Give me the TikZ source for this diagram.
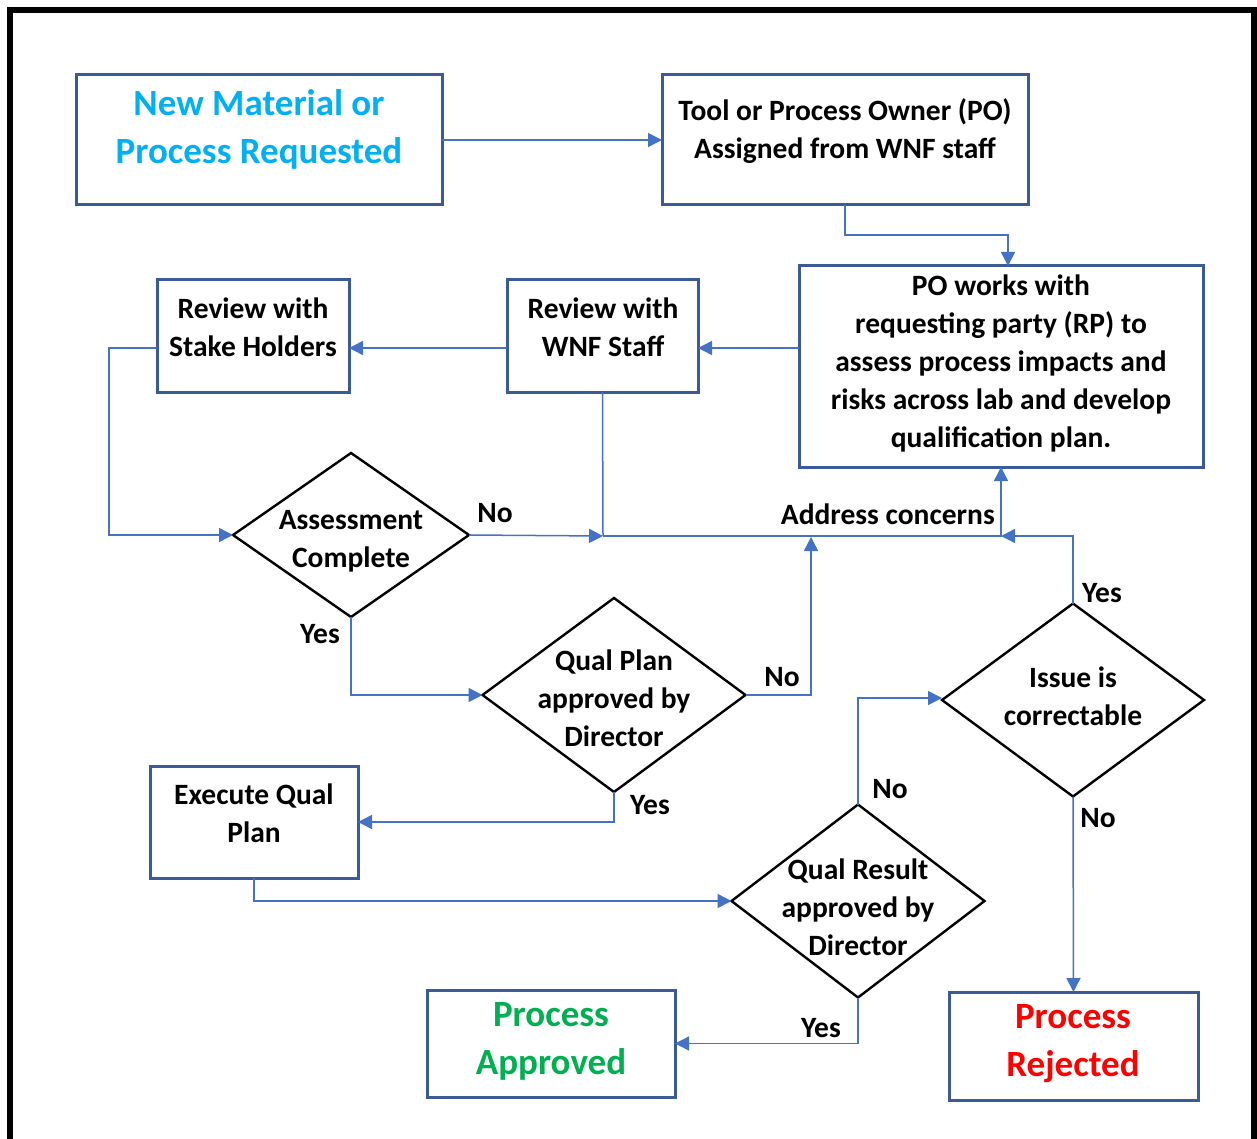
\documentclass[tikz,border=0pt]{standalone}
\usepackage{fontspec}
\setmainfont{Carlito}
\usetikzlibrary{shapes.geometric,arrows.meta}
\definecolor{boxblue}{HTML}{3A5A98}
\definecolor{lineblue}{HTML}{4472C4}
\definecolor{cyantext}{HTML}{00B0F0}
\definecolor{greentext}{HTML}{00B050}
\definecolor{redtext}{HTML}{FF0000}
\begin{document}
\begin{tikzpicture}[x=1pt,y=-1pt,
  pbox/.style={draw=boxblue,line width=3pt,inner sep=0pt,outer sep=0pt},
  pdia/.style={draw=black,line width=2.4pt,diamond,inner sep=0pt,outer sep=0pt},
  txt/.style={font=\fontsize{29.5}{38}\selectfont\bfseries,align=center,inner sep=0pt},
  bigtxt/.style={font=\fontsize{37}{48}\selectfont\bfseries,align=center,inner sep=0pt},
  lbl/.style={font=\fontsize{29.5}{34}\selectfont\bfseries,inner sep=0pt},
  cline/.style={draw=lineblue,line width=1.5pt},
  conn/.style={cline,-{Triangle[length=14pt,width=14pt]}}]
\useasboundingbox (0,0) rectangle (1257,1139);
% frame
\draw[line width=6pt,line join=miter] (10,1145) -- (10,10) -- (1254,10) -- (1254,1145);
% boxes
\node[pbox,minimum width=366pt,minimum height=130pt] (b1) at (259,140) {};
\node[pbox,minimum width=366pt,minimum height=130pt] (b2) at (845,140) {};
\node[pbox,minimum width=404pt,minimum height=201pt] (b3) at (1001,366.5) {};
\node[pbox,minimum width=191pt,minimum height=112pt] (b4) at (602.5,336) {};
\node[pbox,minimum width=192pt,minimum height=112pt] (b5) at (253,336) {};
\node[pbox,minimum width=208pt,minimum height=112pt] (b6) at (254,822) {};
\node[pbox,minimum width=248pt,minimum height=107pt] (b7) at (551,1043.5) {};
\node[pbox,minimum width=249pt,minimum height=108pt] (b8) at (1073.5,1046) {};
% diamonds
\node[pdia,minimum width=236pt,minimum height=164pt] (d1) at (351,535) {};
\node[pdia,minimum width=263pt,minimum height=194pt] (d2) at (614,695) {};
\node[pdia,minimum width=262pt,minimum height=193pt] (d3) at (1073,700) {};
\node[pdia,minimum width=253pt,minimum height=193pt] (d4) at (858,901) {};
% helper coordinates
\coordinate (r1) at (0,348);
\coordinate (L) at (109,348);
\coordinate (J) at (603,536);
\coordinate (A2) at (811,537);
% connectors
\draw[conn] (b1.east) -- (b2.west);
\draw[conn] (b2.south) -- ++(0,30) -| ([xshift=7pt]b3.north);
\draw[conn] (b3.west |- r1) -- (b4.east |- r1);
\draw[conn] (b4.west |- r1) -- (b5.east |- r1);
\draw[conn] (b5.west |- r1) -- (L) |- (d1.west);
\draw[cline] (b4.south) -- (J);
\draw[conn] (d1.east) -- (J);
\draw[conn] (J) -| (b3.south);
\draw[conn] (d2.east) -| (A2);
\draw[conn] (d3.north) |- (b3.south |- J);
\draw[conn] (d1.south) |- (d2.west);
\draw[conn] (d2.south) |- (b6.east);
\draw[conn] (b6.south) |- (d4.west);
\draw[conn] (d4.north) |- ([yshift=2pt]d3.west);
\draw[conn] (d3.south) -- (b8.north);
\draw[conn] (d4.south) |- (b7.east);
% texts
\node[bigtxt,text=cyantext] (t1) at (259,129) {New Material or\\Process Requested};
\node[txt] (t2) at (845,131) {Tool or Process Owner (PO)\\Assigned from WNF staff};
\node[txt] (t3) at (1001,363) {PO works with\\requesting party (RP) to\\assess process impacts and\\risks across lab and develop\\qualification plan.};
\node[txt] (t4) at (603,327) {Review with\\WNF Staff};
\node[txt] (t5) at (253,327) {Review with\\Stake Holders};
\node[txt] (t6) at (254,813) {Execute Qual\\Plan};
\node[bigtxt,text=greentext] (t7) at (551,1041) {Process\\Approved};
\node[bigtxt,text=redtext] (t8) at (1073,1044) {Process\\Rejected};
\node[txt] (t9) at (351,541) {Assessment\\Complete};
\node[txt] (t10) at (614,698) {Qual Plan\\approved by\\Director};
\node[txt] (t11) at (1073,696) {Issue is\\correctable};
\node[txt] (t12) at (858,907) {Qual Result\\approved by\\Director};
% labels
\node[lbl] (l1) at (495,513) {No};
\node[lbl,anchor=east] (l2) at (995,514) {Address concerns};
\node[lbl] (l3) at (320,634) {Yes};
\node[lbl] (l4) at (782,677) {No};
\node[lbl] (l5) at (650,805) {Yes};
\node[lbl] (l6) at (1102,593) {Yes};
\node[lbl] (l7) at (890,789) {No};
\node[lbl] (l8) at (1098,818) {No};
\node[lbl] (l9) at (821,1028) {Yes};
\end{tikzpicture}
\end{document}
